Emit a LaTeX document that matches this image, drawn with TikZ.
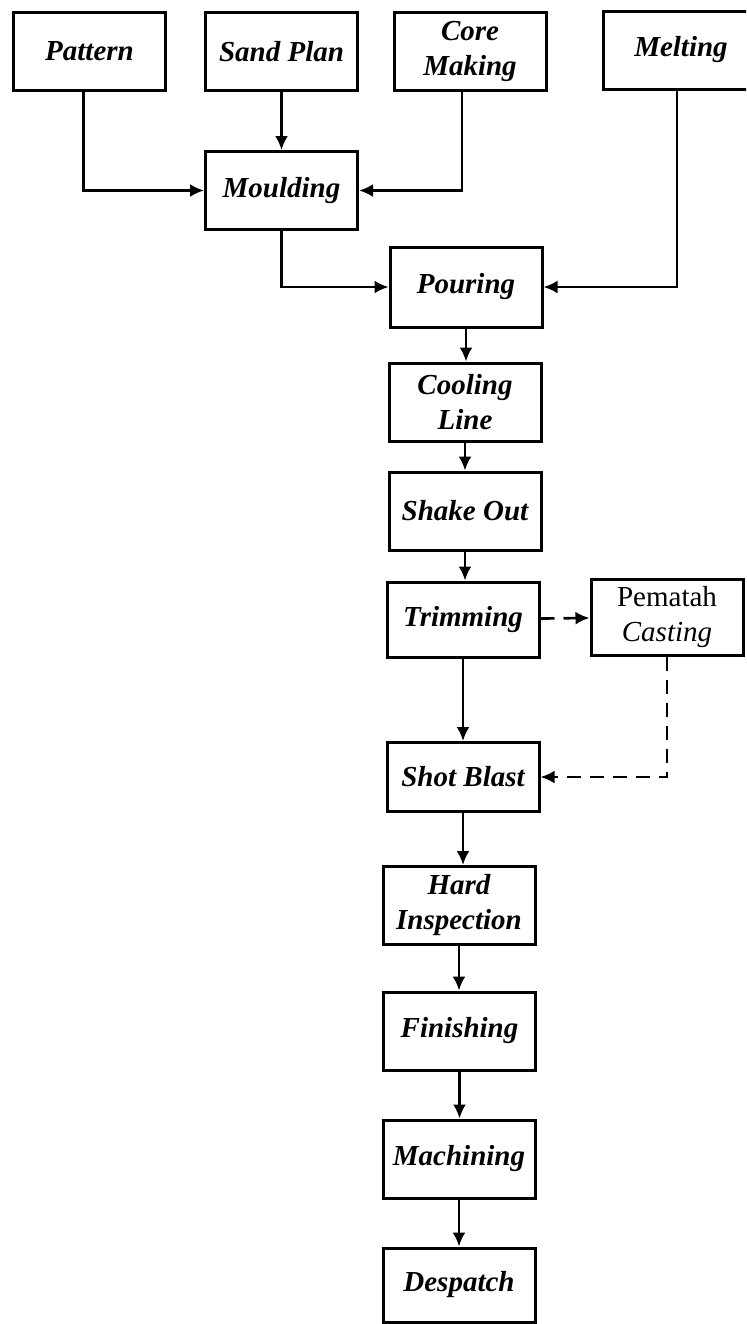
\documentclass[tikz,border=0pt]{standalone}
\usepackage{fontspec}
\setmainfont{Liberation Serif}
\usetikzlibrary{arrows.meta}

\begin{document}
\begin{tikzpicture}[x=.5pt,y=-.5pt,line width=1.3pt,
  box/.style={draw,line width=1.5pt,minimum width=76pt,minimum height=39pt,inner sep=0pt,align=center,
    font=\fontsize{14.5}{17.5}\selectfont\bfseries\itshape},
  arr/.style={-{Latex[length=7pt,width=6.5pt]}},
  dsh/.style={arr,dash pattern=on 7pt off 4.5pt}]
\useasboundingbox (0,0) rectangle (746,1324);
\clip (0,0) rectangle (746,1324);
\node[box] (pat) at (89.5,51.5) {Pattern};
\node[box] (sand) at (281.5,51.5) {Sand Plan};
\node[box] (core) at (470,51.5) {Core\\Making};
\node[box,minimum width=77.5pt] (melt) at (681,50) {Melting};
\node[box] (mould) at (281.5,190.5) {Moulding};
\node[box,minimum height=40pt] (pour) at (466,287) {Pouring};
\node[box] (cool) at (465,402) {Cooling\\Line};
\node[box] (shake) at (465,511) {Shake Out};
\node[box,minimum height=37.5pt] (trim) at (463,619.5) {Trimming};
\node[box,minimum height=38pt,font=\fontsize{14.5}{17.5}\selectfont] (pem) at (667,617) {Pematah\\\textit{Casting}};
\node[box,minimum height=34.5pt] (shot) at (463,777) {Shot Blast};
\node[box] (hard) at (459,905.5) {Hard\\Inspection};
\node[box] (fin) at (459.5,1031) {Finishing};
\node[box] (mach) at (459,1159) {Machining};
\node[box,minimum height=37pt] (desp) at (459,1285) {Despatch};
% feeds into moulding and pouring
\draw[arr] ([xshift=-3pt]pat.south) |- (mould.west);
\draw[arr] (sand) -- (mould);
\draw[arr] ([xshift=-4pt]core.south) |- (mould.east);
\draw[arr] (mould.south) |- (pour.west);
\draw[arr] ([xshift=-2pt]melt.south) |- (pour.east);
% main line
\draw[arr] (pour) -- (pour |- cool.north);
\draw[arr] (cool) -- (shake);
\draw[arr] (shake) -- (shake |- trim.north);
\draw[arr] (trim) -- (shot);
\draw[arr] (shot) -- (shot |- hard.north);
\draw[arr] (hard) -- (hard |- fin.north);
\draw[arr] (fin) -- (fin |- mach.north);
\draw[arr] (mach) -- (desp);
% side loop
\draw[dsh] (trim) -- (pem);
\draw[dsh] (pem.south) |- (shot.east);
\end{tikzpicture}
\end{document}
